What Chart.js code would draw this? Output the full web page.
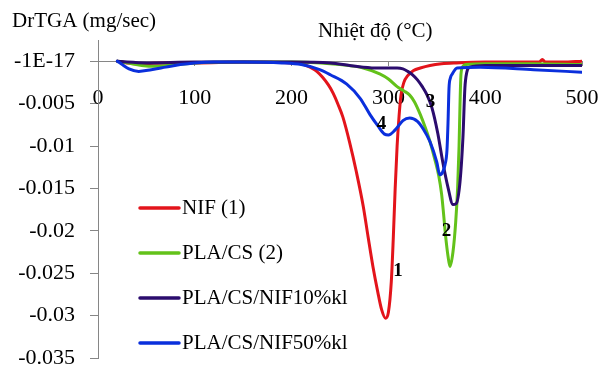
<!DOCTYPE html>
<html>
<head>
<meta charset="utf-8">
<script src="https://cdn.jsdelivr.net/npm/chart.js@4.4.1/dist/chart.umd.min.js"></script>
<style>
  html, body { margin: 0; padding: 0; background: #fff; }
  canvas { display: block; }
</style>
</head>
<body>
<canvas id="chart" width="603" height="367"></canvas>
<script>
// DrTGA curves (temperature in °C, rate in mg/sec).

const SERIES_NAMES = ['NIF (1)', 'PLA/CS (2)', 'PLA/CS/NIF10%kl', 'PLA/CS/NIF50%kl'];
const SERIES_COLORS = ['#e3141b', '#63c21a', '#2b0c6e', '#0a2fdc'];

const nifTemp = [20, 30, 45, 70, 100, 150, 200, 210, 219, 226, 232, 238, 243, 248, 253, 260, 267, 274, 279, 284,
  289, 293, 297, 300, 303, 305, 307, 309, 311, 313, 316, 320, 326, 333, 343, 355, 370, 400, 440, 456, 459, 462, 480, 500];
const nifRate = [0, -0.0002, -0.0003, -0.0002, -0.0002, -0.0001, -0.0002, -0.0003, -0.0007, -0.0012, -0.0019, -0.0028,
  -0.0038, -0.0051, -0.0066, -0.0096, -0.0131, -0.0171, -0.0207, -0.0242, -0.0272, -0.0293, -0.0303, -0.0296, -0.0260,
  -0.0210, -0.0150, -0.0100, -0.0065, -0.0040, -0.0025, -0.0017, -0.0011, -0.0008, -0.0005, -0.0003, -0.0002, -0.0001,
  -0.0001, -0.0001, 0.0002, -0.0001, -0.0001, 0];

const csTemp = [20, 30, 45, 60, 80, 100, 150, 200, 230, 250, 274, 291, 300, 309, 316, 322, 327, 333, 338, 343,
  348, 352, 355, 357, 359, 361.6, 363.6, 366.7, 369.5, 371.5, 373, 374, 375, 377, 380, 400, 450, 500];
const csRate = [0, -0.0002, -0.0005, -0.0006, -0.0004, -0.0002, -0.0001, -0.0001, -0.0002, -0.0004, -0.0008, -0.0015,
  -0.0021, -0.0030, -0.0035, -0.0040, -0.0048, -0.0063, -0.0078, -0.0095, -0.0116, -0.0135, -0.0157, -0.0180, -0.0205,
  -0.0230, -0.0242, -0.0225, -0.0190, -0.0150, -0.0100, -0.0050, -0.0015, -0.0006, -0.0004, -0.0003, -0.0003, -0.0004];

const nif10Temp = [20, 30, 50, 100, 150, 200, 240, 260, 274, 290, 309, 315, 320, 325, 330, 335, 340, 345, 351, 356,
  361.6, 366.7, 370, 374, 377, 379, 381, 384, 400, 450, 500];
const nif10Rate = [0, -0.0001, -0.0002, -0.0001, -0.0001, -0.0001, -0.0002, -0.0005, -0.0007, -0.0008, -0.0008, -0.0009,
  -0.0012, -0.0016, -0.0022, -0.0030, -0.0040, -0.0055, -0.0085, -0.0118, -0.0149, -0.0169, -0.0168, -0.0142, -0.0090,
  -0.0032, -0.0013, -0.0007, -0.0005, -0.0005, -0.0005];

const nif50Temp = [20, 25, 32, 42, 55, 70, 85, 100, 120, 150, 190, 210, 229, 240, 257, 271, 281, 289, 296, 300,
  307, 315, 322, 330, 336, 343, 350, 353, 356, 358.5, 360.5, 361.6, 362.6, 364, 366, 371, 395, 450, 500];
const nif50Rate = [0, -0.0004, -0.0009, -0.0012, -0.0010, -0.0007, -0.0004, -0.0002, -0.0001, -0.0001, -0.0002, -0.0004,
  -0.0010, -0.0016, -0.0027, -0.0044, -0.0063, -0.0076, -0.0086, -0.0087, -0.0081, -0.0070, -0.0067, -0.0071, -0.0080,
  -0.0095, -0.0119, -0.0134, -0.0131, -0.0122, -0.0105, -0.0072, -0.0032, -0.0020, -0.0015, -0.0008, -0.0007, -0.0010,
  -0.0013];

const X_MIN = 0, X_MAX = 500, X_STEP = 100;
const yTickValues = [0, -0.005, -0.01, -0.015, -0.02, -0.025, -0.03, -0.035];
const yTickLabels = ['-1E-17', '-0.005', '-0.01', '-0.015', '-0.02', '-0.025', '-0.03', '-0.035'];

// Curve numbers placed next to the peaks, in data units.
const peakMarks = ['1', '2', '3', '4'];
const peakTemp = [310, 360, 343.5, 293];
const peakRate = [-0.0248, -0.0200, -0.0048, -0.0074];

const Y_LABEL = 'DrTGA (mg/sec)';
const X_LABEL = 'Nhiệt độ (°C)';

const FONT = '"Liberation Serif", "Times New Roman", serif';
const AXIS_GREY = '#868686';

const temps = [nifTemp, csTemp, nif10Temp, nif50Temp];
const rates = [nifRate, csRate, nif10Rate, nif50Rate];
const pairs = (ts, vs) => ts.map((t, i) => ({ x: t, y: vs[i] }));

const datasets = SERIES_NAMES.map((name, i) => ({
  label: name,
  data: pairs(temps[i], rates[i]),
  borderColor: SERIES_COLORS[i],
  borderWidth: 3,
  pointRadius: 0,
  cubicInterpolationMode: 'monotone',
  borderJoinStyle: 'round',
  borderCapStyle: 'round',
  order: SERIES_NAMES.length - i, // later series sit on top, as in the original
}));

// Titles, in-plot legend and peak numbers.
const figureText = {
  id: 'figureText',
  afterDraw(chart) {
    const { ctx, scales: { x, y } } = chart;
    ctx.save();
    ctx.fillStyle = '#000';
    ctx.textBaseline = 'middle';
    ctx.textAlign = 'left';
    ctx.font = `21px ${FONT}`;
    ctx.fillText(Y_LABEL, 12, 21);
    ctx.fillText(X_LABEL, 318, 31);

    // legend
    SERIES_NAMES.forEach((name, i) => {
      const ly = 208 + i * 45;
      ctx.strokeStyle = SERIES_COLORS[i];
      ctx.lineWidth = 3.5;
      ctx.lineCap = 'round';
      ctx.beginPath();
      ctx.moveTo(140, ly);
      ctx.lineTo(179, ly);
      ctx.stroke();
      ctx.fillStyle = '#000';
      ctx.fillText(name, 182, ly);
    });

    // peak numbers
    ctx.font = `bold 19px ${FONT}`;
    ctx.textAlign = 'center';
    peakMarks.forEach((m, i) => {
      ctx.fillText(m, x.getPixelForValue(peakTemp[i]), y.getPixelForValue(peakRate[i]));
    });
    ctx.restore();
  },
};

new Chart(document.getElementById('chart'), {
  type: 'line',
  data: { datasets },
  options: {
    responsive: false,
    animation: false,
    events: [],
    layout: { padding: { left: 0, right: 21, top: 40, bottom: 9 } },
    plugins: { legend: { display: false }, tooltip: { enabled: false }, title: { display: false } },
    scales: {
      x: {
        type: 'linear',
        position: { y: 0 },
        min: X_MIN,
        max: X_MAX,
        afterFit: s => { s.height = 0; s.paddingLeft = 0; s.paddingRight = 0; },
        grid: { drawOnChartArea: false, drawTicks: true, tickLength: 4, color: AXIS_GREY },
        border: { display: true, color: AXIS_GREY, width: 1 },
        ticks: {
          stepSize: X_STEP,
          padding: 20,
          maxRotation: 0,
          color: '#000',
          font: { family: FONT, size: 22 },
        },
      },
      y: {
        type: 'linear',
        position: 'left',
        min: -0.035,
        max: 0.0025,
        afterFit: s => { s.width = 98; s.paddingTop = 0; s.paddingBottom = 0; },
        afterBuildTicks: s => { s.ticks = yTickValues.map(v => ({ value: v })); },
        grid: { drawOnChartArea: false, drawTicks: true, tickLength: 8, color: AXIS_GREY },
        border: { display: true, color: AXIS_GREY, width: 1 },
        ticks: {
          padding: 15,
          color: '#000',
          font: { family: FONT, size: 22 },
          callback: (v, i) => yTickLabels[i],
        },
      },
    },
  },
  plugins: [figureText],
});
</script>
</body>
</html>
